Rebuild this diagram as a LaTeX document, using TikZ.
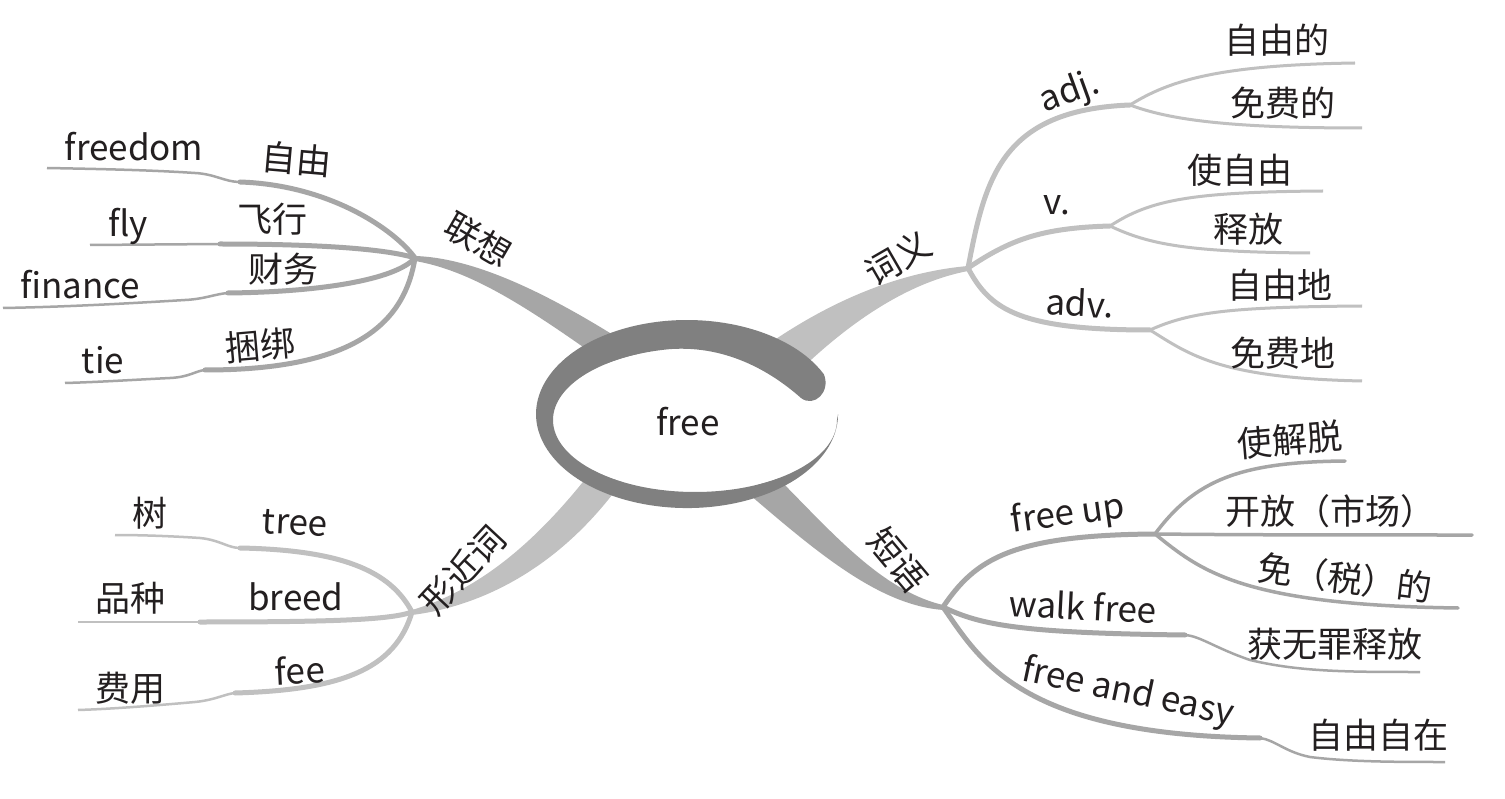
\documentclass[tikz,border=0pt]{standalone}
\usepackage{fontspec}
\setmainfont{Noto Sans CJK SC}
\definecolor{ringc}{RGB}{128,128,128}
\definecolor{gA}{RGB}{166,166,166}
\definecolor{gB}{RGB}{192,192,192}
\definecolor{txt}{RGB}{35,31,32}
\tikzset{
  lbl/.style={font=\fontsize{35}{42}\selectfont, text=txt, inner sep=0pt},
  subA/.style={draw=gA, line width=5pt, line cap=round},
  tailA/.style={draw=gA, line width=2.5pt},
  subB/.style={draw=gB, line width=5pt, line cap=round},
  leafB/.style={draw=gB, line width=3pt},
  tailB/.style={draw=gB, line width=2.5pt},
}
\begin{document}
\begin{tikzpicture}[x=1pt,y=-1pt]
\useasboundingbox (0,0) rectangle (1505,799);
\fill[white] (0,0) rectangle (1505,799);
% ---------- hubs and free ends ----------
\coordinate (hL) at (415,258);
\coordinate (kFreedom) at (240,182); \coordinate (eFreedom) at (47,168);
\coordinate (kFly) at (220,244);     \coordinate (eFly) at (90,245);
\coordinate (kFin) at (228,293);     \coordinate (eFin) at (3,308);
\coordinate (kTie) at (205,370);     \coordinate (eTie) at (65,383);
\coordinate (hR) at (968,268);
\coordinate (hAdj) at (1130,105); \coordinate (hV) at (1110,226); \coordinate (hAdv) at (1150,330);
\coordinate (eA1) at (1355,63);  \coordinate (eA2) at (1362,128);
\coordinate (eV1) at (1323,191); \coordinate (eV2) at (1310,253);
\coordinate (eD1) at (1362,306); \coordinate (eD2) at (1362,381);
\coordinate (hP) at (943,607); \coordinate (hFU) at (1155,534);
\coordinate (eJie) at (1345,461); \coordinate (eKai) at (1472,535); \coordinate (eMian) at (1458,608);
\coordinate (kWalk) at (1185,635); \coordinate (eWalk) at (1420,672);
\coordinate (kEasy) at (1260,738); \coordinate (eEasy) at (1445,762);
\coordinate (hX) at (412,612);
\coordinate (kTree) at (240,548); \coordinate (eTree) at (115,535);
\coordinate (kBreed) at (200,622); \coordinate (eBreed) at (78,622);
\coordinate (kFee) at (235,693); \coordinate (eFee) at (78,710);
% ---------- main tapered branches ----------
\fill[gA] (hL) ++(0,-2) .. controls (480,258) and (560,300) .. (640,352) -- (630,380) .. controls (545,320) and (480,272) .. (415,261) -- cycle;
\fill[gB] (hR) ++(0,-2) .. controls (900,272) and (830,300) .. (760,350) -- (790,380) .. controls (850,320) and (910,282) .. (968,271) -- cycle;
\fill[gB] (hX) ++(0,-2) .. controls (480,590) and (540,540) .. (600,460) -- (630,470) .. controls (570,560) and (490,605) .. (412,615) -- cycle;
\fill[gA] (hP) ++(0,-2) .. controls (880,590) and (830,530) .. (770,470) -- (750,495) .. controls (820,555) and (880,605) .. (943,610) -- cycle;
% ---------- 联想 ----------
\draw[subA] (hL) .. controls (395,230) and (330,185) .. (kFreedom);
\draw[tailA] (kFreedom) .. controls (225,182) and (215,174) .. (195,173) .. controls (150,170) and (100,169) .. (eFreedom);
\draw[subA] (hL) .. controls (390,250) and (330,244) .. (kFly);
\draw[tailA] (kFly) -- (eFly);
\draw[subA] (hL) .. controls (395,280) and (320,292) .. (kFin);
\draw[tailA] (kFin) .. controls (215,294) and (205,299) .. (185,300) .. controls (120,304) and (60,307) .. (eFin);
\draw[subA] (hL) .. controls (405,320) and (360,370) .. (kTie);
\draw[tailA] (kTie) .. controls (195,371) and (190,377) .. (170,378) .. controls (130,380) and (100,382) .. (eTie);
% ---------- 词义 ----------
\draw[subB] (hR) .. controls (985,180) and (1000,110) .. (hAdj);
\draw[subB] (hR) .. controls (1010,240) and (1040,228) .. (hV);
\draw[subB] (hR) .. controls (990,310) and (1020,330) .. (hAdv);
\draw[leafB] (hAdj) .. controls (1170,80) and (1220,65) .. (eA1);
\draw[leafB] (hAdj) .. controls (1170,120) and (1230,128) .. (eA2);
\draw[leafB] (hV) .. controls (1150,200) and (1190,192) .. (eV1);
\draw[leafB] (hV) .. controls (1150,245) and (1190,252) .. (eV2);
\draw[leafB] (hAdv) .. controls (1190,312) and (1230,307) .. (eD1);
\draw[leafB] (hAdv) .. controls (1190,355) and (1220,378) .. (eD2);
% ---------- 短语 ----------
\draw[subA] (hP) .. controls (975,560) and (1010,535) .. (hFU);
\draw[subA,line width=3.5pt] (hFU) .. controls (1195,480) and (1240,462) .. (eJie);
\draw[subA,line width=3.5pt] (hFU) .. controls (1250,535) and (1350,535) .. (eKai);
\draw[subA,line width=3.5pt] (hFU) .. controls (1200,570) and (1240,605) .. (eMian);
\draw[subA] (hP) .. controls (980,625) and (1020,633) .. (kWalk);
\draw[tailA] (kWalk) .. controls (1200,636) and (1215,648) .. (1250,660) .. controls (1300,672) and (1350,672) .. (eWalk);
\draw[subA] (hP) .. controls (980,660) and (1020,735) .. (kEasy);
\draw[tailA] (kEasy) .. controls (1275,740) and (1285,752) .. (1310,757) .. controls (1350,762) and (1400,762) .. (eEasy);
% ---------- 形近词 ----------
\draw[subB] (hX) .. controls (390,570) and (340,550) .. (kTree);
\draw[tailB] (kTree) .. controls (228,548) and (220,540) .. (200,538) .. controls (170,536) and (140,535) .. (eTree);
\draw[subB] (hX) .. controls (390,620) and (330,622) .. (kBreed);
\draw[tailB] (kBreed) -- (eBreed);
\draw[subB] (hX) .. controls (395,670) and (340,690) .. (kFee);
\draw[tailB] (kFee) .. controls (225,694) and (215,700) .. (195,702) .. controls (150,706) and (110,709) .. (eFee);
% ---------- central ring ----------
\fill[white] (695,420) ellipse [x radius=142, y radius=72];
\fill[ringc] (823.9,374.3) arc[start angle=-25, end angle=-360, x radius=151, y radius=94]
  -- (837,420) arc[start angle=-360, end angle=-100, x radius=142, y radius=72]
  .. controls (730,345) and (775,375) .. (801,398)
  .. controls (814,408) and (831,392) .. (823.9,374.3) -- cycle;
\node[lbl] (tFree) at (688,422) {free};
% ---------- labels ----------
\node[lbl,rotate=-30] (tLianxiang) at (478,240) {联想};
\node[lbl] (tFreedom) at (134,147) {freedom};
\node[lbl,rotate=-5] (tZiyou) at (297,159) {自由};
\node[lbl] (tFly) at (128,226) {fly};
\node[lbl] (tFeixing) at (272,219) {飞行};
\node[lbl] (tFinance) at (80,285) {finance};
\node[lbl] (tCaiwu) at (283,269) {财务};
\node[lbl] (tTie) at (103,360) {tie};
\node[lbl,rotate=5] (tKunbang) at (260,345) {捆绑};
\node[lbl,rotate=30] (tCiyi) at (898,258) {词义};
\node[lbl,rotate=20] (tAdj) at (1070,93) {adj.};
\node[lbl] (tA1) at (1277,40) {自由的};
\node[lbl] (tA2) at (1283,103) {免费的};
\node[lbl] (tV) at (1057,205) {v.};
\node[lbl] (tV1) at (1240,170) {使自由};
\node[lbl] (tV2) at (1248,229) {释放};
\node[lbl,rotate=-3] (tAdv) at (1080,303) {adv.};
\node[lbl] (tD1) at (1280,285) {自由地};
\node[lbl] (tD2) at (1283,353) {免费地};
\node[lbl,rotate=-50] (tDuanyu) at (898,560) {短语};
\node[lbl,rotate=8] (tFreeUp) at (1068,515) {free up};
\node[lbl,rotate=5] (tJie) at (1290,440) {使解脱};
\node[lbl] (tKai) at (1330,511) {开放（市场）};
\node[lbl,rotate=-7] (tMian) at (1345,578) {免（税）的};
\node[lbl,rotate=-3] (tWalk) at (1083,606) {walk free};
\node[lbl] (tHuo) at (1335,644) {获无罪释放};
\node[lbl,rotate=-12] (tEasy) at (1128,693) {free and easy};
\node[lbl] (tZizai) at (1378,735) {自由自在};
\node[lbl,rotate=47] (tXing) at (463,570) {形近词};
\node[lbl] (tShu) at (150,513) {树};
\node[lbl,rotate=-3] (tTree) at (295,523) {tree};
\node[lbl] (tPin) at (130,598) {品种};
\node[lbl] (tBreed) at (296,597) {breed};
\node[lbl] (tFeiyong) at (130,688) {费用};
\node[lbl,rotate=3] (tFee) at (300,670) {fee};
\end{tikzpicture}
\end{document}
